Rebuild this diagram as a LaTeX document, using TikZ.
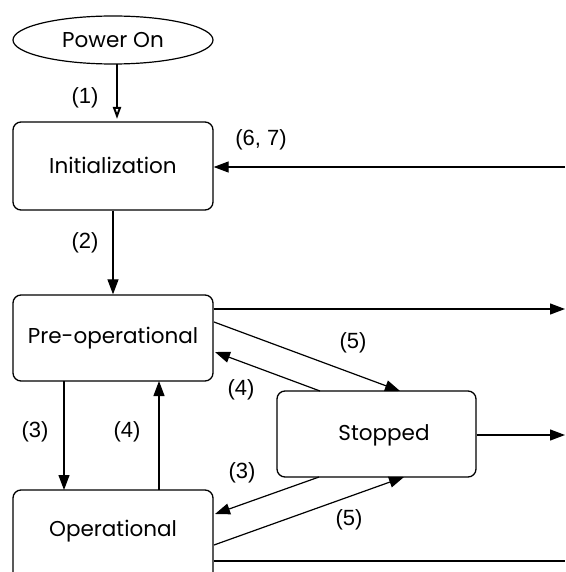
\documentclass[tikz,border=0pt]{standalone}
\usepackage{fontspec}
\setmainfont{Poppins}
\newfontfamily\labfont{Liberation Sans}
\usetikzlibrary{arrows.meta,shapes.geometric}
\begin{document}
\begin{tikzpicture}[x=1pt,y=-1pt,
  statebox/.style={draw,line width=1.3pt,rounded corners=8pt,inner sep=0pt},
  conn/.style={line width=1.2pt,-{Triangle[length=15pt,width=11pt]}},
  plain/.style={line width=1.2pt},
  lab/.style={font=\labfont\fontsize{22}{22}\selectfont},
  stxt/.style={font=\fontsize{21.5}{21.5}\selectfont}]
\useasboundingbox (0,0) rectangle (565,572);
\node[draw,ellipse,line width=1.2pt,minimum width=200pt,minimum height=48pt,inner sep=0pt] (pwr) at (113,40) {};
\node[stxt] at (113,40) {Power On};
\node[statebox,minimum width=200pt,minimum height=88pt] (init) at (113,166) {};
\node[stxt] at (113,165) {Initialization};
\node[statebox,minimum width=200pt,minimum height=86pt] (pre) at (113,338) {};
\node[stxt] at (113,338) {Pre-operational};
\node[statebox,minimum width=200pt,minimum height=100pt] (op) at (113,540) {};
\node[stxt] at (113,531) {Operational};
\node[statebox,minimum width=199pt,minimum height=86pt] (stop) at (376.5,434) {};
\node[stxt] at (384,435) {Stopped};
% (1)
\draw[line width=1.2pt,-{Triangle[open,length=12pt,width=8pt,line width=2pt]}] (117,64) -- (117,119);
\node[lab] at (85,98) {(1)};
% (6,7)
\coordinate (e1) at (565,167);
\draw[conn] (e1) -- (init.east |- e1);
\node[lab] at (261,140) {(6, 7)};
% (2)
\draw[conn] (init.south) -- (pre.north);
\node[lab] at (85,243) {(2)};
% right exits
\coordinate (e2) at (565,309);
\draw[conn] (pre.east |- e2) -- (e2);
\coordinate (e3) at (565,435);
\draw[conn] (stop.east |- e3) -- (e3);
\coordinate (e4) at (565,561);
\draw[plain] (op.east |- e4) -- (e4);
% (3) pre -> op
\draw[conn] (64,381) -- (64,490);
\node[lab] at (35,432) {(3)};
% (4) op -> pre
\draw[conn] (159,490) -- (159,381);
\node[lab] at (127,432) {(4)};
% (5) pre -> stop
\draw[conn] (214,322) -- (400,391);
\node[lab] at (353,343) {(5)};
% (4) stop -> pre
\draw[conn] (320,391) -- (215,352);
\node[lab] at (241,390) {(4)};
% (3) stop -> op
\draw[conn] (319,477) -- (215,514);
\node[lab] at (242,473) {(3)};
% (5) op -> stop
\draw[conn] (214,545) -- (404,477);
\node[lab] at (349,520) {(5)};
\end{tikzpicture}
\end{document}
